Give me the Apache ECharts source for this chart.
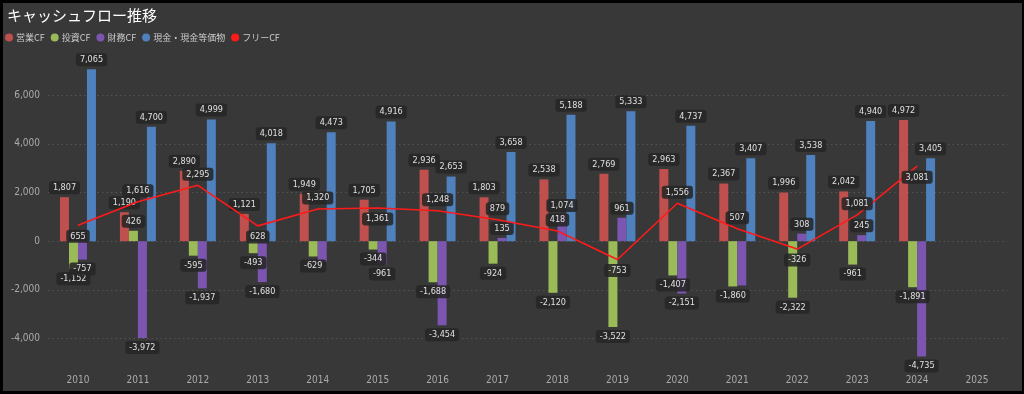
<!DOCTYPE html>
<html><head><meta charset="utf-8">
<script src="https://cdn.jsdelivr.net/npm/echarts@6/dist/echarts.min.js"></script>
<style>
html,body{margin:0;padding:0;background:#000;}
#c{position:absolute;left:3px;top:3px;width:1019px;height:388px;background:#383838;}
</style></head>
<body><div id="c"></div>
<script>
const years = ['2010','2011','2012','2013','2014','2015','2016','2017','2018','2019','2020','2021','2022','2023','2024','2025'];
const opCF   = [1807, 1190, 2890, 1121, 1949, 1705, 2936, 1803, 2538, 2769, 2963, 2367, 1996, 2042, 4972, null];
const invCF  = [-1152, 426, -595, -493, -629, -344, -1688, -924, -2120, -3522, -1407, -1860, -2322, -961, -1891, null];
const finCF  = [-757, -3972, -1937, -1680, -860, -961, -3454, 135, 1074, 961, -2151, -1820, 308, 245, -4735, null];
const cash   = [7065, 4700, 4999, 4018, 4473, 4916, 2653, 3658, 5188, 5333, 4737, 3407, 3538, 4940, 3405, null];
const freeCF = [655, 1616, 2295, 628, 1320, 1361, 1248, 879, 418, -753, 1556, 507, -326, 1081, 3081, null];
const names = ['営業CF','投資CF','財務CF','現金・現金等価物','フリーCF'];

// label styling choices (not data): where the line labels sit, which bar labels are hidden by overlap
const freeLabelBelow = [true,false,false,true,false,true,false,false,false,true,false,false,true,false,true];
const hiddenFinLabelYears = ['2014','2021'];

const colors = ['#c0504d','#9bbb59','#7b55b0','#4f81bd','#ff1a1a'];
const labelFont = 'DejaVu Sans Condensed, Liberation Sans Narrow, sans-serif';
const fmt = v => Number(v).toLocaleString('en-US');
const labelBase = {
  show: true, color: '#e0e0e0', fontSize: 9, fontFamily: labelFont,
  backgroundColor: 'rgba(38,38,38,0.88)', borderRadius: 3, padding: [2,4,2,4],
  distance: 3, formatter: p => fmt(p.value)
};
function barData(arr, hiddenYears){
  return arr.map((v, i) => v == null ? null : ({value: v,
    label: {position: v < 0 ? 'bottom' : 'top', show: !(hiddenYears || []).includes(years[i])}}));
}
function barSeries(i, arr, hiddenYears){
  return {
    name: names[i], type: 'bar', data: barData(arr, hiddenYears), barWidth: 9, barGap: '0%',
    itemStyle: {color: colors[i]}, label: labelBase, z: 2
  };
}
const chart = echarts.init(document.getElementById('c'));
const gridColor = '#555';
chart.setOption({
  backgroundColor: '#383838',
  animation: false,
  title: {text: 'キャッシュフロー推移', left: 4, top: 5, padding: 0,
    textStyle: {color: '#ffffff', fontSize: 15, fontWeight: 'normal', fontFamily: 'Noto Sans CJK JP'}},
  legend: {left: 2, top: 30, padding: 0, icon: 'circle', itemWidth: 8, itemHeight: 8, itemGap: 6,
    textStyle: {color: '#cccccc', fontSize: 9, fontFamily: 'Noto Sans CJK JP', padding: [0,0,0,-2]},
    data: names},
  grid: {left: 45, right: 15, top: 58, bottom: 22},
  xAxis: {type: 'category', data: years,
    axisLine: {show: false}, axisTick: {show: false},
    axisLabel: {color: '#aaaaaa', fontSize: 10, margin: 6, fontFamily: labelFont}},
  yAxis: {type: 'value', min: -5250, max: 7400, splitNumber: 6,
    axisLabel: {color: '#aaaaaa', fontSize: 10, fontFamily: labelFont, showMinLabel: false, showMaxLabel: false,
      formatter: v => (v % 2000 === 0 ? fmt(v) : '')},
    splitLine: {lineStyle: {type: [1.5,3], width: 1,
      color: ['rgba(0,0,0,0)', gridColor, gridColor, gridColor, gridColor, gridColor, gridColor, 'rgba(0,0,0,0)']}}},
  series: [
    barSeries(0, opCF), barSeries(1, invCF), barSeries(2, finCF, hiddenFinLabelYears), barSeries(3, cash),
    {name: names[4], type: 'line', data: freeCF.map((v,i) => v == null ? null :
        ({value: v, label: {position: freeLabelBelow[i] ? 'bottom' : 'top'}})),
     showSymbol: true, symbol: 'circle', symbolSize: 1,
     lineStyle: {color: colors[4], width: 1.6}, itemStyle: {color: colors[4]},
     label: Object.assign({}, labelBase, {distance: 4}), z: 5}
  ]
});
</script></body></html>
